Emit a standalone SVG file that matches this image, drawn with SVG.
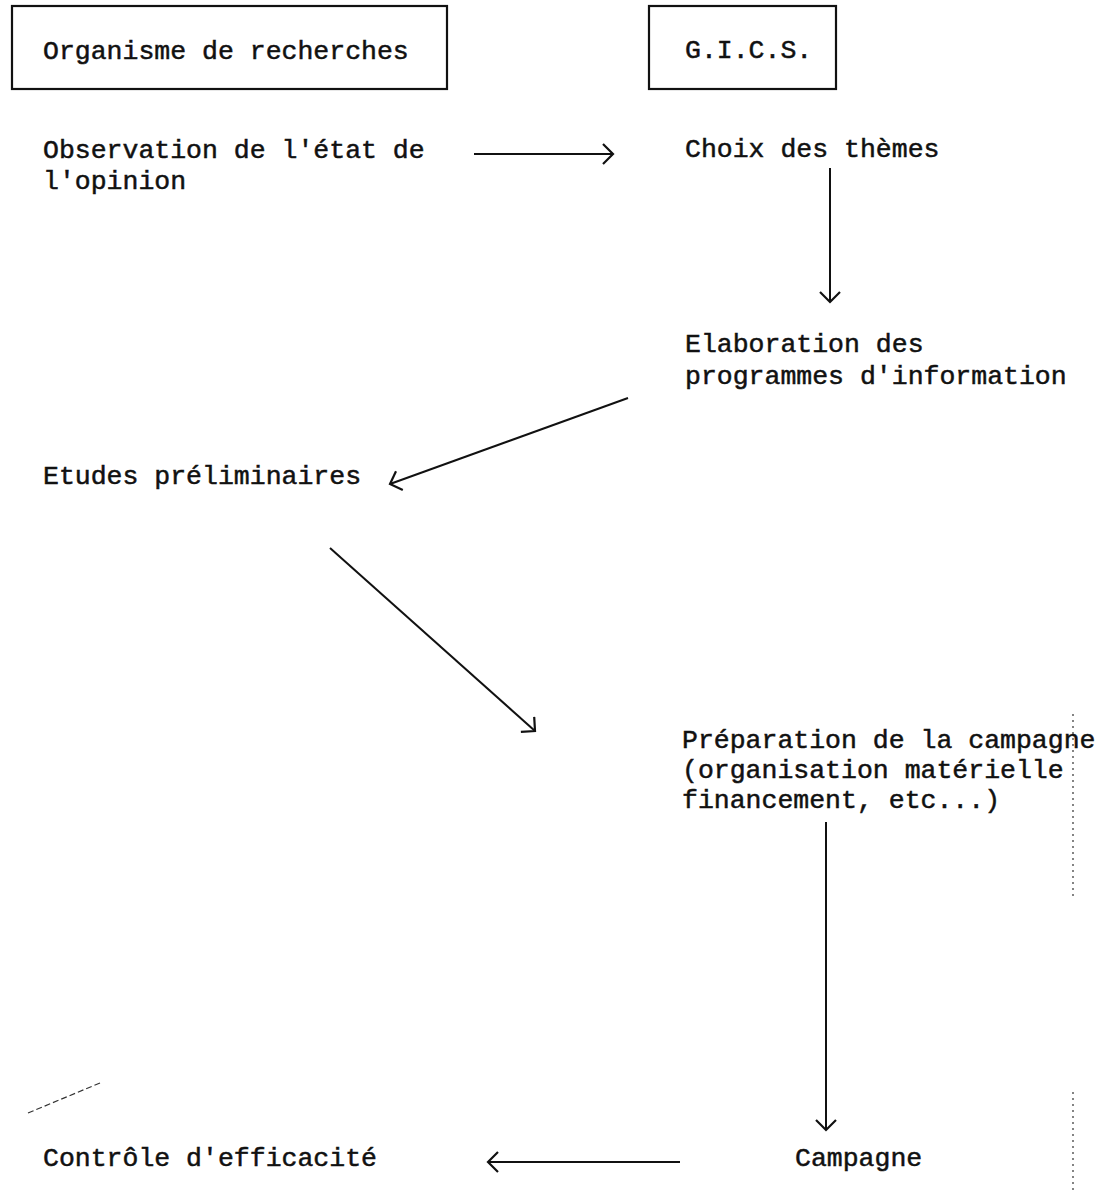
<svg xmlns="http://www.w3.org/2000/svg" width="1103" height="1193" viewBox="0 0 1103 1193">
<style>
.t{font-family:"Liberation Mono","DejaVu Sans Mono",monospace;font-size:26.5px;fill:#111;stroke:#111;stroke-width:0.5}
.box{fill:none;stroke:#111;stroke-width:2.2}
.c{fill:none;stroke:#111;stroke-width:2}
.art{fill:none;stroke:#333;stroke-width:1.2}
</style>
<defs>
<marker id="ah" markerWidth="14" markerHeight="22" refX="12" refY="11" orient="auto" markerUnits="userSpaceOnUse">
<path d="M2,1 L12,11 L2,21" fill="none" stroke="#111" stroke-width="2.2"/>
</marker>
</defs>
<rect width="1103" height="1193" fill="#fff"/>
<g id="n-organisme"><rect class="box" x="12" y="6" width="435" height="83"/><text class="t" x="43" y="59">Organisme de recherches</text></g>
<g id="n-gics"><rect class="box" x="649" y="6" width="187" height="83"/><text class="t" x="685" y="58">G.I.C.S.</text></g>
<g id="n-observation"><text class="t" x="43" y="158">Observation de l'état de</text><text class="t" x="43" y="189">l'opinion</text></g>
<g id="n-choix"><text class="t" x="685" y="157">Choix des thèmes</text></g>
<g id="n-elaboration"><text class="t" x="685" y="352">Elaboration des</text><text class="t" x="685" y="384">programmes d'information</text></g>
<g id="n-etudes"><text class="t" x="43" y="484">Etudes préliminaires</text></g>
<g id="n-preparation"><text class="t" x="682" y="748">Préparation de la campagne</text><text class="t" x="682" y="778">(organisation matérielle</text><text class="t" x="682" y="808">financement, etc...)</text></g>
<g id="n-campagne"><text class="t" x="795" y="1166">Campagne</text></g>
<g id="n-controle"><text class="t" x="43" y="1166">Contrôle d'efficacité</text></g>
<g id="connectors">
<line class="c" x1="474" y1="154" x2="613" y2="154" marker-end="url(#ah)"/>
<line class="c" x1="830" y1="168" x2="830" y2="302" marker-end="url(#ah)"/>
<line class="c" x1="628" y1="398" x2="390" y2="484" marker-end="url(#ah)"/>
<line class="c" x1="330" y1="548" x2="535" y2="731" marker-end="url(#ah)"/>
<line class="c" x1="826" y1="822" x2="826" y2="1130" marker-end="url(#ah)"/>
<line class="c" x1="680" y1="1162" x2="488" y2="1162" marker-end="url(#ah)"/>
</g>
<g id="artifacts">
<path class="art" d="M28,1113 L100,1083" stroke-dasharray="6,3"/>
<path class="art" d="M1073,714 L1073,900" stroke-dasharray="2,4"/>
<path class="art" d="M1073,1092 L1073,1190" stroke-dasharray="2,4"/>
</g>
</svg>
